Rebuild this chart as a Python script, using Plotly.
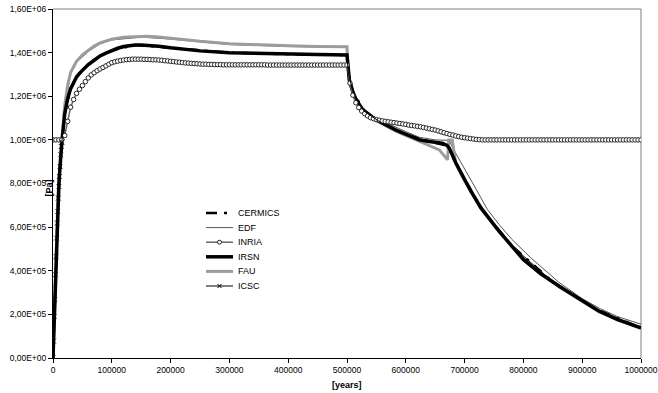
import plotly.graph_objects as go

MPA = 1e6  # values below are stored in units of 1e6 Pa

# ---------------- data ----------------
CERMICS_T = [0, 2000, 5000, 10000, 15000, 20000, 30000, 40000, 60000, 80000, 100000,
             140000, 200000, 300000, 400000, 500000, 502000, 510000, 530000, 560000,
             600000, 640000, 670000, 690000, 730000, 780000, 850000, 920000, 1000000]
CERMICS_P = [0, 0.19, 0.47, 0.79, 0.985, 1.12, 1.235, 1.288, 1.345, 1.385, 1.41,
             1.435, 1.422, 1.4, 1.393, 1.389, 1.31, 1.22, 1.13, 1.075,
             1.025, 0.993, 0.973, 0.868, 0.68, 0.515, 0.349, 0.229, 0.138]

EDF_T = [0, 2000, 5000, 10000, 15000, 20000, 30000, 40000, 60000, 80000, 100000,
         150000, 200000, 300000, 400000, 500000, 501000, 503000, 505000, 510000,
         515000, 520000, 530000, 545000, 560000, 580000, 600000, 623000, 650000,
         674000, 680000, 700000, 720000, 739000, 759000, 780000, 812700, 840000,
         860800, 900000, 930000, 960000, 1000000]
EDF_P = [0, 0.2, 0.5, 0.81, 1.0, 1.155, 1.305, 1.355, 1.405, 1.44, 1.458,
         1.471, 1.462, 1.437, 1.428, 1.424, 1.37, 1.31, 1.265, 1.215,
         1.185, 1.165, 1.135, 1.105, 1.085, 1.062, 1.038, 1.012, 1.0,
         0.998, 0.962, 0.87, 0.772, 0.68, 0.611, 0.545, 0.459, 0.395,
         0.346, 0.272, 0.227, 0.19, 0.155]

INRIA_STEP = 5000
INRIA_P = [
    1.000, 1.000, 1.000, 1.000, 1.020, 1.085, 1.150, 1.185, 1.213, 1.232,
    1.249, 1.267, 1.284, 1.298, 1.308, 1.317, 1.325, 1.332, 1.339, 1.347,
    1.354, 1.358, 1.361, 1.364, 1.366, 1.368, 1.369, 1.370, 1.370, 1.370,
    1.370, 1.369, 1.369, 1.368, 1.367, 1.367, 1.366, 1.365, 1.363, 1.362,
    1.360, 1.359, 1.357, 1.356, 1.354, 1.353, 1.352, 1.351, 1.350, 1.349,
    1.348, 1.347, 1.347, 1.346, 1.346, 1.345, 1.345, 1.345, 1.344, 1.344,
    1.344, 1.344, 1.344, 1.344, 1.344, 1.344, 1.344, 1.344, 1.344, 1.344,
    1.344, 1.344, 1.344, 1.343, 1.343, 1.343, 1.343, 1.343, 1.343, 1.343,
    1.343, 1.343, 1.343, 1.343, 1.343, 1.343, 1.343, 1.343, 1.343, 1.343,
    1.343, 1.343, 1.343, 1.343, 1.343, 1.343, 1.343, 1.343, 1.343, 1.343,
    1.343, 1.260, 1.205, 1.170, 1.148, 1.132, 1.120, 1.110, 1.102, 1.097,
    1.093, 1.090, 1.087, 1.085, 1.083, 1.081, 1.079, 1.077, 1.075, 1.073,
    1.071, 1.068, 1.066, 1.064, 1.062, 1.060, 1.057, 1.054, 1.051, 1.048,
    1.045, 1.041, 1.037, 1.033, 1.029, 1.025, 1.022, 1.018, 1.015, 1.012,
    1.010, 1.008, 1.006, 1.004, 1.002, 1.001, 1.000, 1.000, 1.000, 1.000,
    1.000, 1.000, 1.000, 1.000, 1.000, 1.000, 1.000, 1.000, 1.000, 1.000,
    1.000, 1.000, 1.000, 1.000, 1.000, 1.000, 1.000, 1.000, 1.000, 1.000,
    1.000, 1.000, 1.000, 1.000, 1.000, 1.000, 1.000, 1.000, 1.000, 1.000,
    1.000, 1.000, 1.000, 1.000, 1.000, 1.000, 1.000, 1.000, 1.000, 1.000,
    1.000, 1.000, 1.000, 1.000, 1.000, 1.000, 1.000, 1.000, 1.000, 1.000,
    1.000,
]
INRIA_T = [i * INRIA_STEP for i in range(len(INRIA_P))]

IRSN_T = [0, 1000, 2000, 3000, 4000, 5000, 6000, 7000, 8000, 9000, 10000, 11000,
          12000, 13000, 14000, 15000, 20000, 25000, 30000, 35000, 40000, 45000,
          50000, 60000, 70000, 80000, 90000, 100000, 110000, 120000, 130000,
          140000, 150000, 160000, 180000, 200000, 225000, 250000, 300000, 350000,
          400000, 450000, 500000, 501400, 504000, 510000, 515600, 526800, 549600,
          583500, 600000, 623000, 640000, 662000, 670000, 674000, 685000, 696600,
          710000, 727800, 759000, 800000, 830000, 861000, 900000, 929000, 960000,
          1000000]
IRSN_P = [0, 0.085, 0.19, 0.28, 0.38, 0.47, 0.55, 0.62, 0.68, 0.74, 0.79, 0.84,
          0.88, 0.92, 0.955, 0.985, 1.12, 1.19, 1.235, 1.265, 1.288, 1.305,
          1.32, 1.345, 1.365, 1.385, 1.398, 1.41, 1.42, 1.428, 1.433,
          1.435, 1.435, 1.434, 1.429, 1.422, 1.414, 1.408, 1.4, 1.396,
          1.393, 1.391, 1.389, 1.35, 1.275, 1.22, 1.183, 1.138, 1.092,
          1.045, 1.025, 1.0, 0.993, 0.985, 0.975, 0.962, 0.895, 0.832,
          0.768, 0.688, 0.58, 0.452, 0.385, 0.329, 0.262, 0.214, 0.176,
          0.138]

FAU_T = [0, 2000, 4000, 6000, 8000, 10000, 12000, 15000, 20000, 25000, 30000,
         40000, 50000, 60000, 70000, 80000, 90000, 100000, 120000, 140000, 150000,
         160000, 180000, 200000, 250000, 300000, 350000, 400000, 450000, 500000,
         501000, 504000, 510000, 516000, 527000, 550000, 583000, 600000, 623000,
         640000, 657000, 671000, 673000, 679000, 685000, 696600, 728000, 759000,
         800000, 861000, 929000, 1000000]
FAU_P = [0, 0.2, 0.4, 0.57, 0.7, 0.81, 0.9, 1.0, 1.16, 1.25, 1.31,
         1.36, 1.39, 1.41, 1.43, 1.445, 1.455, 1.462, 1.47, 1.474, 1.475,
         1.475, 1.472, 1.466, 1.452, 1.441, 1.435, 1.431, 1.428, 1.427,
         1.35, 1.27, 1.215, 1.18, 1.135, 1.088, 1.04, 1.02, 0.993,
         0.975, 0.954, 0.909, 1.0, 1.0, 0.89, 0.828, 0.685, 0.577,
         0.449, 0.326, 0.211, 0.135]

ICSC_T = [0, 1000, 2000, 3000, 4000, 5000, 6000, 7000, 8000, 9000, 10000, 11000,
          12000, 13000, 14000, 15000, 20000, 30000, 40000, 60000, 80000, 100000,
          140000, 200000, 300000, 400000, 500000, 502000, 510000, 530000, 560000,
          600000, 640000, 670000, 690000, 730000, 780000, 850000, 920000, 1000000]
ICSC_P = [0, 0.077, 0.191, 0.268, 0.382, 0.466, 0.55, 0.619, 0.672, 0.733, 0.786,
          0.832, 0.878, 0.932, 0.97, 0.99, 1.12, 1.235, 1.288, 1.345, 1.385, 1.41,
          1.435, 1.422, 1.4, 1.393, 1.389, 1.31, 1.22, 1.13, 1.075,
          1.025, 0.993, 0.973, 0.868, 0.68, 0.515, 0.349, 0.229, 0.138]

X_TICK_VALUES = [0, 100000, 200000, 300000, 400000, 500000, 600000, 700000,
                 800000, 900000, 1000000]
X_TICK_LABELS = ["0", "100000", "200000", "300000", "400000", "500000", "600000",
                 "700000", "800000", "900000", "1000000"]
Y_TICK_VALUES = [0, 200000, 400000, 600000, 800000, 1000000, 1200000, 1400000, 1600000]
Y_TICK_LABELS = ["0,00E+00", "2,00E+05", "4,00E+05", "6,00E+05", "8,00E+05",
                 "1,00E+06", "1,20E+06", "1,40E+06", "1,60E+06"]

LEGEND_NAMES = ["CERMICS", "EDF", "INRIA", "IRSN", "FAU", "ICSC"]

X_TITLE = "[years]"
Y_TITLE = "[Pa]"


def pa(values):
    return [v * MPA for v in values]


FONT = "Liberation Sans, Arial, sans-serif"
TICK_SIZE = 8.5
W, H = 658, 393
M_L, M_R, M_T, M_B = 53, 17, 9, 35
PLOT_W = W - M_L - M_R
PLOT_H = H - M_T - M_B


def px(xpix):
    """page pixel -> paper x"""
    return (xpix - M_L) / PLOT_W


def py(ypix):
    """page pixel -> paper y"""
    return (H - M_B - ypix) / PLOT_H


STYLE = {
    "CERMICS": dict(color="#000000", width=2.5, dash="10px,7px,3px,7px"),
    "EDF": dict(color="#555555", width=1),
    "INRIA": dict(color="#666666", width=1.5),
    "IRSN": dict(color="#000000", width=3.5),
    "FAU": dict(color="#9c9c9c", width=3),
    "ICSC": dict(color="#000000", width=1),
}

fig = go.Figure()

fig.add_trace(go.Scatter(x=CERMICS_T, y=pa(CERMICS_P), name="CERMICS",
                         mode="lines", line=STYLE["CERMICS"]))
fig.add_trace(go.Scatter(x=EDF_T, y=pa(EDF_P), name="EDF",
                         mode="lines", line=STYLE["EDF"]))
fig.add_trace(go.Scatter(x=FAU_T, y=pa(FAU_P), name="FAU",
                         mode="lines", line=STYLE["FAU"]))
fig.add_trace(go.Scatter(x=IRSN_T, y=pa(IRSN_P), name="IRSN",
                         mode="lines", line=STYLE["IRSN"]))
fig.add_trace(go.Scatter(
    x=INRIA_T, y=pa(INRIA_P), name="INRIA", mode="lines+markers",
    line=STYLE["INRIA"],
    marker=dict(symbol="circle", size=4.5, color="#ffffff",
                line=dict(color="#262626", width=1))))
icsc_sizes = [5 if t <= 15000 else 0 for t in ICSC_T]
fig.add_trace(go.Scatter(
    x=ICSC_T, y=pa(ICSC_P), name="ICSC", mode="lines+markers",
    line=STYLE["ICSC"],
    marker=dict(symbol="x-thin", size=icsc_sizes, color="#000000",
                line=dict(color="#000000", width=1))))

shapes = [
    # grey top and right edges of the plot area
    dict(type="line", xref="paper", yref="paper", x0=0, x1=1, y0=1, y1=1,
         line=dict(color="#808080", width=1), layer="below"),
    dict(type="line", xref="paper", yref="paper", x0=1, x1=1, y0=0, y1=1,
         line=dict(color="#808080", width=1), layer="below"),
]
annotations = []

# compact legend box, drawn by hand so the rows sit close together
LEG_X0, LEG_X1, LEG_TEXT_X = 206, 233, 236
LEG_Y0, LEG_DY = 213, 14.6
for i, name in enumerate(LEGEND_NAMES):
    yy = LEG_Y0 + i * LEG_DY
    st = STYLE[name]
    if name == "CERMICS":
        for a, b in [(LEG_X0, LEG_X0 + 11), (LEG_X0 + 18, LEG_X0 + 21)]:
            shapes.append(dict(type="line", xref="paper", yref="paper",
                               x0=px(a), x1=px(b), y0=py(yy), y1=py(yy),
                               line=dict(color=st["color"], width=st["width"])))
    else:
        shapes.append(dict(type="line", xref="paper", yref="paper",
                           x0=px(LEG_X0), x1=px(LEG_X1), y0=py(yy), y1=py(yy),
                           line=dict(color=st["color"], width=st["width"])))
    cx = (LEG_X0 + LEG_X1) / 2
    if name == "INRIA":
        shapes.append(dict(type="circle", xref="paper", yref="paper",
                           x0=px(cx - 2), x1=px(cx + 2), y0=py(yy + 2), y1=py(yy - 2),
                           fillcolor="#ffffff", line=dict(color="#262626", width=1)))
    if name == "ICSC":
        for d in (1, -1):
            shapes.append(dict(type="line", xref="paper", yref="paper",
                               x0=px(cx - 2), x1=px(cx + 2),
                               y0=py(yy - 2 * d), y1=py(yy + 2 * d),
                               line=dict(color="#000000", width=1)))
    annotations.append(dict(text=name, xref="paper", yref="paper",
                            x=px(LEG_TEXT_X), y=py(yy), xanchor="left",
                            yanchor="middle", showarrow=False,
                            font=dict(family=FONT, size=9, color="#000000")))

annotations.append(dict(text="<b>" + X_TITLE + "</b>", xref="paper", yref="paper",
                        x=0.5, y=py(385), xanchor="center", yanchor="middle",
                        showarrow=False, font=dict(family=FONT, size=9, color="#000")))
annotations.append(dict(text="<b>" + Y_TITLE + "</b>", xref="paper", yref="paper",
                        x=px(48.5), y=py(188), xanchor="center", yanchor="middle",
                        textangle=-90, showarrow=False,
                        font=dict(family=FONT, size=9, color="#000")))

fig.update_layout(
    width=W, height=H,
    margin=dict(l=M_L, r=M_R, t=M_T, b=M_B, autoexpand=False),
    paper_bgcolor="#ffffff", plot_bgcolor="#ffffff",
    font=dict(family=FONT, size=9, color="#000000"),
    showlegend=False,
    shapes=shapes,
    annotations=annotations,
    xaxis=dict(range=[0, 1000000], tickvals=X_TICK_VALUES, ticktext=X_TICK_LABELS,
               showgrid=False, zeroline=False, showline=True, linecolor="#000000",
               linewidth=1, ticks="outside", ticklen=4, tickcolor="#000000",
               ticklabeloverflow="allow", automargin=False,
               tickfont=dict(family=FONT, size=TICK_SIZE, color="#000")),
    yaxis=dict(range=[0, 1600000], tickvals=Y_TICK_VALUES, ticktext=Y_TICK_LABELS,
               showgrid=False, zeroline=False, showline=True, linecolor="#000000",
               linewidth=1, ticks="outside", ticklen=4, tickcolor="#000000",
               ticklabeloverflow="allow", automargin=False,
               tickfont=dict(family=FONT, size=TICK_SIZE, color="#000")),
)

fig.write_html("out.html")
